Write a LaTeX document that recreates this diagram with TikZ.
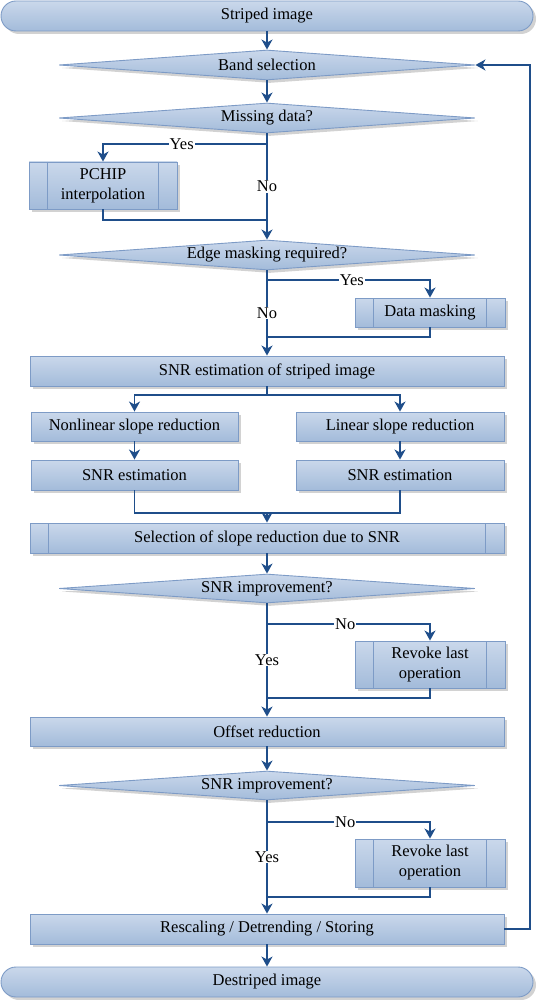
\documentclass[tikz,border=0pt]{standalone}
\usepackage{fontspec}
\setmainfont{Liberation Serif}
\usetikzlibrary{shapes.geometric,arrows.meta,shadows,calc}

\definecolor{boxtop}{HTML}{CAD8EB}
\definecolor{boxbot}{HTML}{A3BBDA}
\definecolor{boxedge}{HTML}{7D9BC6}
\definecolor{flowline}{HTML}{1F4E8A}

\tikzset{
  base/.style={draw=boxedge, line width=0.9pt, top color=boxtop, bottom color=boxbot,
    inner sep=0pt, align=center, font=\fontsize{16.5}{20}\selectfont,
    drop shadow={shadow xshift=3pt, shadow yshift=-3pt, fill=black!35}},
  box/.style={base, rectangle, minimum height=30pt},
  procbox/.style={base, rectangle, path picture={
    \draw[boxedge, line width=0.9pt]
      ([xshift=18.5pt]path picture bounding box.north west) -- ([xshift=18.5pt]path picture bounding box.south west)
      ([xshift=-18.5pt]path picture bounding box.north east) -- ([xshift=-18.5pt]path picture bounding box.south east);}},
  decision/.style={base, diamond, aspect=14, minimum width=416pt, minimum height=30pt},
  terminal/.style={base, rectangle, rounded corners=15pt, minimum width=532pt, minimum height=30pt},
  line/.style={draw=flowline, line width=1.6pt},
  flow/.style={line, -{Stealth[length=10pt,width=11pt,inset=3pt]}},
  lbl/.style={fill=white, inner sep=1pt, font=\fontsize{16.5}{20}\selectfont}
}

\begin{document}
\begin{tikzpicture}[x=1pt, y=-1pt]
    \useasboundingbox (0,0) rectangle (537,1000);

    % Steps
    \node[terminal] (start) at (267,16) {Striped image};
    \node[decision] (band) at (267,65) {Band selection};
    \node[decision] (missing) at (267,118) {Missing data?};
    \node[procbox, minimum width=148pt, minimum height=47pt] (pchip) at (103,185.5) {PCHIP\\interpolation};
    \node[decision] (edge) at (267,255) {Edge masking required?};
    \node[procbox, minimum width=150pt, minimum height=29pt] (mask) at (430,312.5) {Data masking};
    \node[box, minimum width=474pt] (snr0) at (267,371) {SNR estimation of striped image};
    \node[box, minimum width=207pt, minimum height=29pt] (nonlin) at (134.5,426.5) {Nonlinear slope reduction};
    \node[box, minimum width=208pt, minimum height=29pt] (lin) at (400,426.5) {Linear slope reduction};
    \node[box, minimum width=207pt] (snr1) at (134.5,475) {SNR estimation};
    \node[box, minimum width=208pt] (snr2) at (400,475) {SNR estimation};
    \node[procbox, minimum width=474pt, minimum height=30pt] (select) at (267,538) {Selection of slope reduction due to SNR};
    \node[decision, minimum height=29pt] (impr1) at (267,588.5) {SNR improvement?};
    \node[procbox, minimum width=150pt, minimum height=47pt] (revoke1) at (430,664.5) {Revoke last\\operation};
    \node[box, minimum width=474pt, minimum height=29pt] (offset) at (267,731.5) {Offset reduction};
    \node[decision, minimum height=29pt] (impr2) at (267,785.5) {SNR improvement?};
    \node[procbox, minimum width=150pt, minimum height=48pt] (revoke2) at (430,863) {Revoke last\\operation};
    \node[box, minimum width=474pt] (rescale) at (267,929) {Rescaling / Detrending / Storing};
    \node[terminal] (finish) at (267,982) {Destriped image};

    % Junctions
    \coordinate (j1) at (267,144);
    \coordinate (m1) at (267,220);
    \coordinate (j2) at (267,280);
    \coordinate (m2) at (267,337);
    \coordinate (s3) at (267,395);
    \coordinate (m3) at (267,513);
    \coordinate (j4) at (267,624);
    \coordinate (m4) at (267,698);
    \coordinate (j5) at (267,822);
    \coordinate (m5) at (267,897);
    \coordinate (fb) at (530,65);

    % Connectors
    \draw[flow] (start) -- (band);
    \draw[flow] (band) -- (missing);
    \draw[flow] (missing.south) -- node[lbl]{No} (edge.north);
    \draw[flow] (j1) -| node[lbl, pos=0.26]{Yes} (pchip.north);
    \draw[line] (pchip.south) |- (m1);
    \draw[flow] (edge.south) -- node[lbl]{No} (snr0.north);
    \draw[flow] (j2) -| node[lbl, pos=0.26]{Yes} (mask.north);
    \draw[line] (mask.south) |- (m2);
    \draw[line] (snr0.south) -- (s3);
    \draw[flow] (s3) -| (nonlin.north);
    \draw[flow] (s3) -| (lin.north);
    \draw[flow] (nonlin) -- (snr1);
    \draw[flow] (lin) -- (snr2);
    \draw[line] (snr1.south) |- (m3) -| (snr2.south);
    \draw[flow] (m3) -- (select.north);
    \draw[flow] (select) -- (impr1);
    \draw[flow] (impr1.south) -- node[lbl]{Yes} (offset.north);
    \draw[flow] (j4) -| node[lbl, pos=0.24]{No} (revoke1.north);
    \draw[line] (revoke1.south) |- (m4);
    \draw[flow] (offset) -- (impr2);
    \draw[flow] (impr2.south) -- node[lbl]{Yes} (rescale.north);
    \draw[flow] (j5) -| node[lbl, pos=0.24]{No} (revoke2.north);
    \draw[line] (revoke2.south) |- (m5);
    \draw[flow] (rescale) -- (finish);
    \draw[flow] (rescale.east) -| (fb) -- (band.east);
\end{tikzpicture}
\end{document}
